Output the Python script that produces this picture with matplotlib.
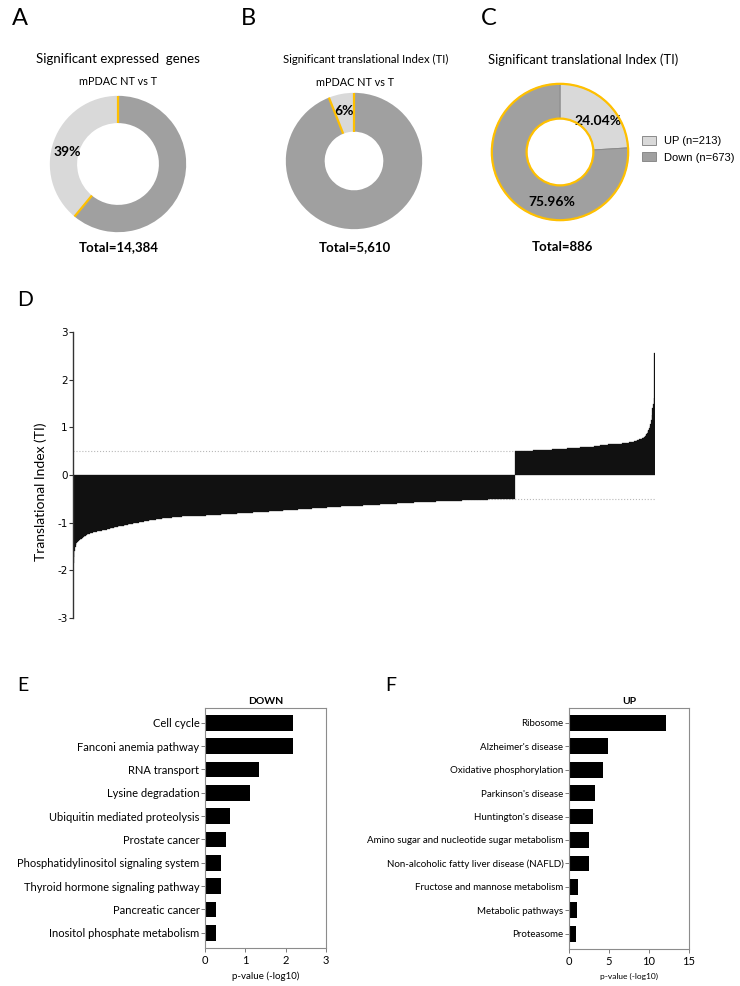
import numpy as np
import matplotlib
matplotlib.use('Agg')
import matplotlib.pyplot as plt
from matplotlib.patches import Circle

plt.rcParams['font.family'] = ['Lato', 'DejaVu Sans']
plt.rcParams['axes.unicode_minus'] = False

# ------ DATA ------
# donuts
pie_a_pct = [39, 61]
pie_b_pct = [6, 94]
pie_c_n = [213, 673]
pie_c_labels = ['UP (n=213)', 'Down (n=673)']
totals = ['Total=14,384', 'Total=5,610', 'Total=886']

# sorted TI values (rounded) and how many genes sit at each value
down_ti = [-1.85, -1.72, -1.60, -1.52, -1.47, -1.43, -1.40, -1.39,
           -1.38, -1.37, -1.36, -1.35, -1.34, -1.33, -1.32, -1.31, -1.30, -1.29,
           -1.28, -1.27, -1.26, -1.25, -1.24, -1.23, -1.22, -1.21, -1.20, -1.19,
           -1.18, -1.17, -1.16, -1.15, -1.14, -1.13, -1.12, -1.11, -1.10, -1.09,
           -1.08, -1.07, -1.06, -1.05, -1.04, -1.03, -1.02, -1.01, -1.00, -0.99,
           -0.98, -0.97, -0.96, -0.95, -0.94, -0.93, -0.92, -0.91, -0.90, -0.89,
           -0.88, -0.87, -0.86, -0.85, -0.84, -0.83, -0.82, -0.81, -0.80, -0.79,
           -0.78, -0.77, -0.76, -0.75, -0.74, -0.73, -0.72, -0.71, -0.70, -0.69,
           -0.68, -0.67, -0.66, -0.65, -0.64, -0.63, -0.62, -0.61, -0.60, -0.59,
           -0.58, -0.57, -0.56, -0.55, -0.54, -0.53, -0.52, -0.51, -0.50]
down_n = [1, 1, 1, 1, 1, 1, 1, 1,
          1, 1, 1, 1, 1, 1, 1, 1, 1, 1,
          1, 1, 1, 1, 2, 2, 2, 2, 2, 4,
          4, 4, 4, 3, 3, 3, 3, 3, 3, 3,
          3, 3, 3, 3, 3, 4, 4, 4, 4, 4,
          4, 4, 4, 5, 5, 5, 5, 7, 7, 8,
          8, 12, 12, 12, 12, 12, 12, 12, 12, 12,
          12, 12, 11, 11, 11, 11, 11, 11, 11, 11,
          11, 11, 11, 11, 11, 13, 13, 13, 13, 13,
          13, 13, 20, 20, 20, 20, 20, 20, 21]
up_ti = [0.50, 0.51, 0.52, 0.53, 0.54, 0.55, 0.56, 0.57, 0.58, 0.59,
         0.60, 0.61, 0.62, 0.63, 0.64, 0.65, 0.66, 0.67, 0.68, 0.69,
         0.70, 0.71, 0.72, 0.73, 0.74, 0.75, 0.76, 0.77, 0.78, 0.79,
         0.80, 0.81, 0.83, 0.86, 0.89, 0.92, 0.95, 0.99, 1.03, 1.07,
         1.15, 1.25, 1.41, 1.50, 1.62, 2.56]
up_n = [14, 14, 14, 14, 13, 10, 10, 10, 10, 11,
        5, 5, 5, 7, 7, 7, 7, 8, 3, 3,
        4, 2, 2, 2, 2, 2, 2, 2, 1, 1,
        1, 1, 1, 1, 1, 1, 1, 1, 1, 1,
        1, 1, 1, 1, 1, 1]

# KEGG enrichment
kegg_down = ['Cell cycle', 'Fanconi anemia pathway', 'RNA transport', 'Lysine degradation',
             'Ubiquitin mediated proteolysis', 'Prostate cancer',
             'Phosphatidylinositol signaling system', 'Thyroid hormone signaling pathway',
             'Pancreatic cancer', 'Inositol phosphate metabolism']
kegg_down_p = [2.17, 2.17, 1.35, 1.12, 0.62, 0.52, 0.39, 0.39, 0.27, 0.27]
kegg_up = ['Ribosome', "Alzheimer's disease", 'Oxidative phosphorylation', "Parkinson's disease",
           "Huntington's disease", 'Amino sugar and nucleotide sugar metabolism',
           'Non-alcoholic fatty liver disease (NAFLD)', 'Fructose and mannose metabolism',
           'Metabolic pathways', 'Proteasome']
kegg_up_p = [12.1, 4.83, 4.2, 3.2, 3.0, 2.54, 2.46, 1.17, 1.04, 0.92]

LIGHT = '#d9d9d9'
DARK = '#a0a0a0'
ORANGE = '#ffc000'

W, H = 740, 986
fig = plt.figure(figsize=(W / 100, H / 100), dpi=100)


def fx(px):
    return px / W


def fy(py):
    return 1 - py / H


def pie_axes(cx, cy, size=150):
    ax = fig.add_axes([fx(cx - size / 2), fy(cy + size / 2), size / W, size / H])
    return ax


def finish_pie(ax):
    ax.set_xlim(-1.1, 1.1)
    ax.set_ylim(-1.1, 1.1)
    ax.set_aspect('equal')
    ax.axis('off')


def separators(ax, wedges, r_in):
    for wd in wedges:
        a = np.deg2rad(wd.theta1)
        ax.plot([r_in * np.cos(a), np.cos(a)], [r_in * np.sin(a), np.sin(a)],
                color=ORANGE, lw=1.6, solid_capstyle='butt', zorder=3)


# ------ A ------
ax_a = pie_axes(118, 164)
wa, _, ta = ax_a.pie(pie_a_pct, colors=[LIGHT, DARK], startangle=90, counterclock=True,
                     wedgeprops=dict(width=0.40, linewidth=0),
                     autopct=lambda p: f'{p:.0f}%' if p < 50 else '', pctdistance=0.78,
                     textprops=dict(fontsize=10, fontweight='bold'))
ta[0].set_position((-0.75, 0.18))
separators(ax_a, wa, 0.60)
finish_pie(ax_a)

# ------ B ------
ax_b = pie_axes(354, 161)
wb, _, _ = ax_b.pie(pie_b_pct, colors=[LIGHT, DARK], startangle=90, counterclock=True,
                    wedgeprops=dict(width=0.57, linewidth=0),
                    autopct=lambda p: f'{p:.0f}%' if p < 50 else '', pctdistance=0.75,
                    textprops=dict(fontsize=10, fontweight='bold'))
separators(ax_b, wb, 0.43)
finish_pie(ax_b)

# ------ C ------
ax_c = pie_axes(560, 152)
wc, _, tc = ax_c.pie(pie_c_n, colors=[LIGHT, DARK], startangle=90, counterclock=False,
                     wedgeprops=dict(width=0.51, linewidth=0.7, edgecolor='#8a8a8a'),
                     autopct='%.2f%%', pctdistance=0.74,
                     textprops=dict(fontsize=10, fontweight='bold'))
tc[0].set_position((0.56, 0.46))
tc[1].set_position((-0.12, -0.73))
ax_c.add_patch(Circle((0, 0), 1.0, fill=False, ec=ORANGE, lw=1.6, zorder=3))
ax_c.add_patch(Circle((0, 0), 0.49, fill=False, ec=ORANGE, lw=1.6, zorder=3))
finish_pie(ax_c)
ax_c.legend(wc, pie_c_labels, loc='upper left', bbox_to_anchor=(fx(642), fy(136)),
            bbox_transform=fig.transFigure, frameon=False,
            prop={'family': 'Liberation Sans', 'size': 8},
            handlelength=1.3, handleheight=0.85, handletextpad=0.7,
            labelspacing=0.55, borderpad=0, borderaxespad=0)

# titles / totals
fig.text(fx(118), fy(63), 'Significant expressed  genes', ha='center', va='baseline', fontsize=9.5)
fig.text(fx(118), fy(85), 'mPDAC NT vs T', ha='center', va='baseline', fontsize=7.8)
fig.text(fx(366), fy(63), 'Significant translational Index (TI)', ha='center', va='baseline', fontsize=8.2)
fig.text(fx(355), fy(86), 'mPDAC NT vs T', ha='center', va='baseline', fontsize=7.8)
fig.text(fx(583), fy(64), 'Significant translational Index (TI)', ha='center', va='baseline', fontsize=9.4)
for cx, t in zip([119, 355, 562], totals):
    fig.text(fx(cx), fy(251), t, ha='center', va='baseline', fontsize=9.5, fontweight='bold')

# panel letters
for x, y, s, fs in [(12, 25, 'A', 17), (241, 25, 'B', 17), (481, 25, 'C', 17),
                    (17, 306, 'D', 15), (17, 691, 'E', 14), (385, 691, 'F', 14)]:
    fig.text(fx(x), fy(y), s, ha='left', va='baseline', fontsize=fs)

# ------ D ------
ax_d = fig.add_axes([fx(73), fy(618), 582 / W, 286 / H])
ti = np.concatenate([np.repeat(down_ti, down_n), np.repeat(up_ti, up_n)])
xpos = np.arange(len(ti))
ax_d.axhline(0.5, color='#b8b8b8', lw=0.8, ls=':', zorder=0)
ax_d.axhline(-0.5, color='#b8b8b8', lw=0.8, ls=':', zorder=0)
ax_d.bar(xpos, ti, width=1.0, color='#111111', edgecolor='#111111', linewidth=0.2, zorder=2)
ax_d.set_xlim(-0.5, len(ti) - 0.5)
ax_d.set_ylim(-3, 3)
for s in ['top', 'right', 'bottom']:
    ax_d.spines[s].set_visible(False)
ax_d.spines['left'].set_color('#333333')
ax_d.spines['left'].set_linewidth(1.0)
ax_d.set_xticks([])
ax_d.set_yticks(range(-3, 4))
ax_d.set_yticklabels([str(v) for v in range(-3, 4)], family='DejaVu Sans', fontsize=7.5)
ax_d.tick_params(axis='y', length=3, width=0.8, color='#333333', pad=1)
ax_d.set_ylabel('Translational Index (TI)', fontsize=10)
ax_d.yaxis.set_label_coords(-0.045, 0.44)


# ------ E / F ------
def kegg_panel(rect, names, vals, xmax, xticks, title, fs):
    ax = fig.add_axes(rect)
    y = np.arange(len(names))
    ax.barh(y, vals, height=0.67, color='black')
    ax.set_ylim(len(names) - 0.35, -0.63)
    ax.set_xlim(0, xmax)
    ax.set_xticks(xticks)
    ax.set_yticks(y)
    ax.set_yticklabels(names, fontsize=fs)
    ax.tick_params(axis='x', labelsize=8, length=3, width=0.6, color='#666666', pad=2)
    ax.tick_params(axis='y', length=3, width=0.6, color='#666666', pad=1)
    for s in ax.spines.values():
        s.set_color('#8c8c8c')
        s.set_linewidth(0.8)
    ax.set_title(title, fontsize=7.5, fontweight='bold', pad=3)
    ax.set_xlabel('p-value (-log10)', fontsize=fs - 1, labelpad=4)
    return ax


kegg_panel([fx(205), fy(948), 121 / W, 240 / H], kegg_down, kegg_down_p, 3, [0, 1, 2, 3], 'DOWN', 8)
kegg_panel([fx(569), fy(949), 120 / W, 241 / H], kegg_up, kegg_up_p, 15, [0, 5, 10, 15], 'UP', 7)

fig.savefig('out.png', dpi=100)
